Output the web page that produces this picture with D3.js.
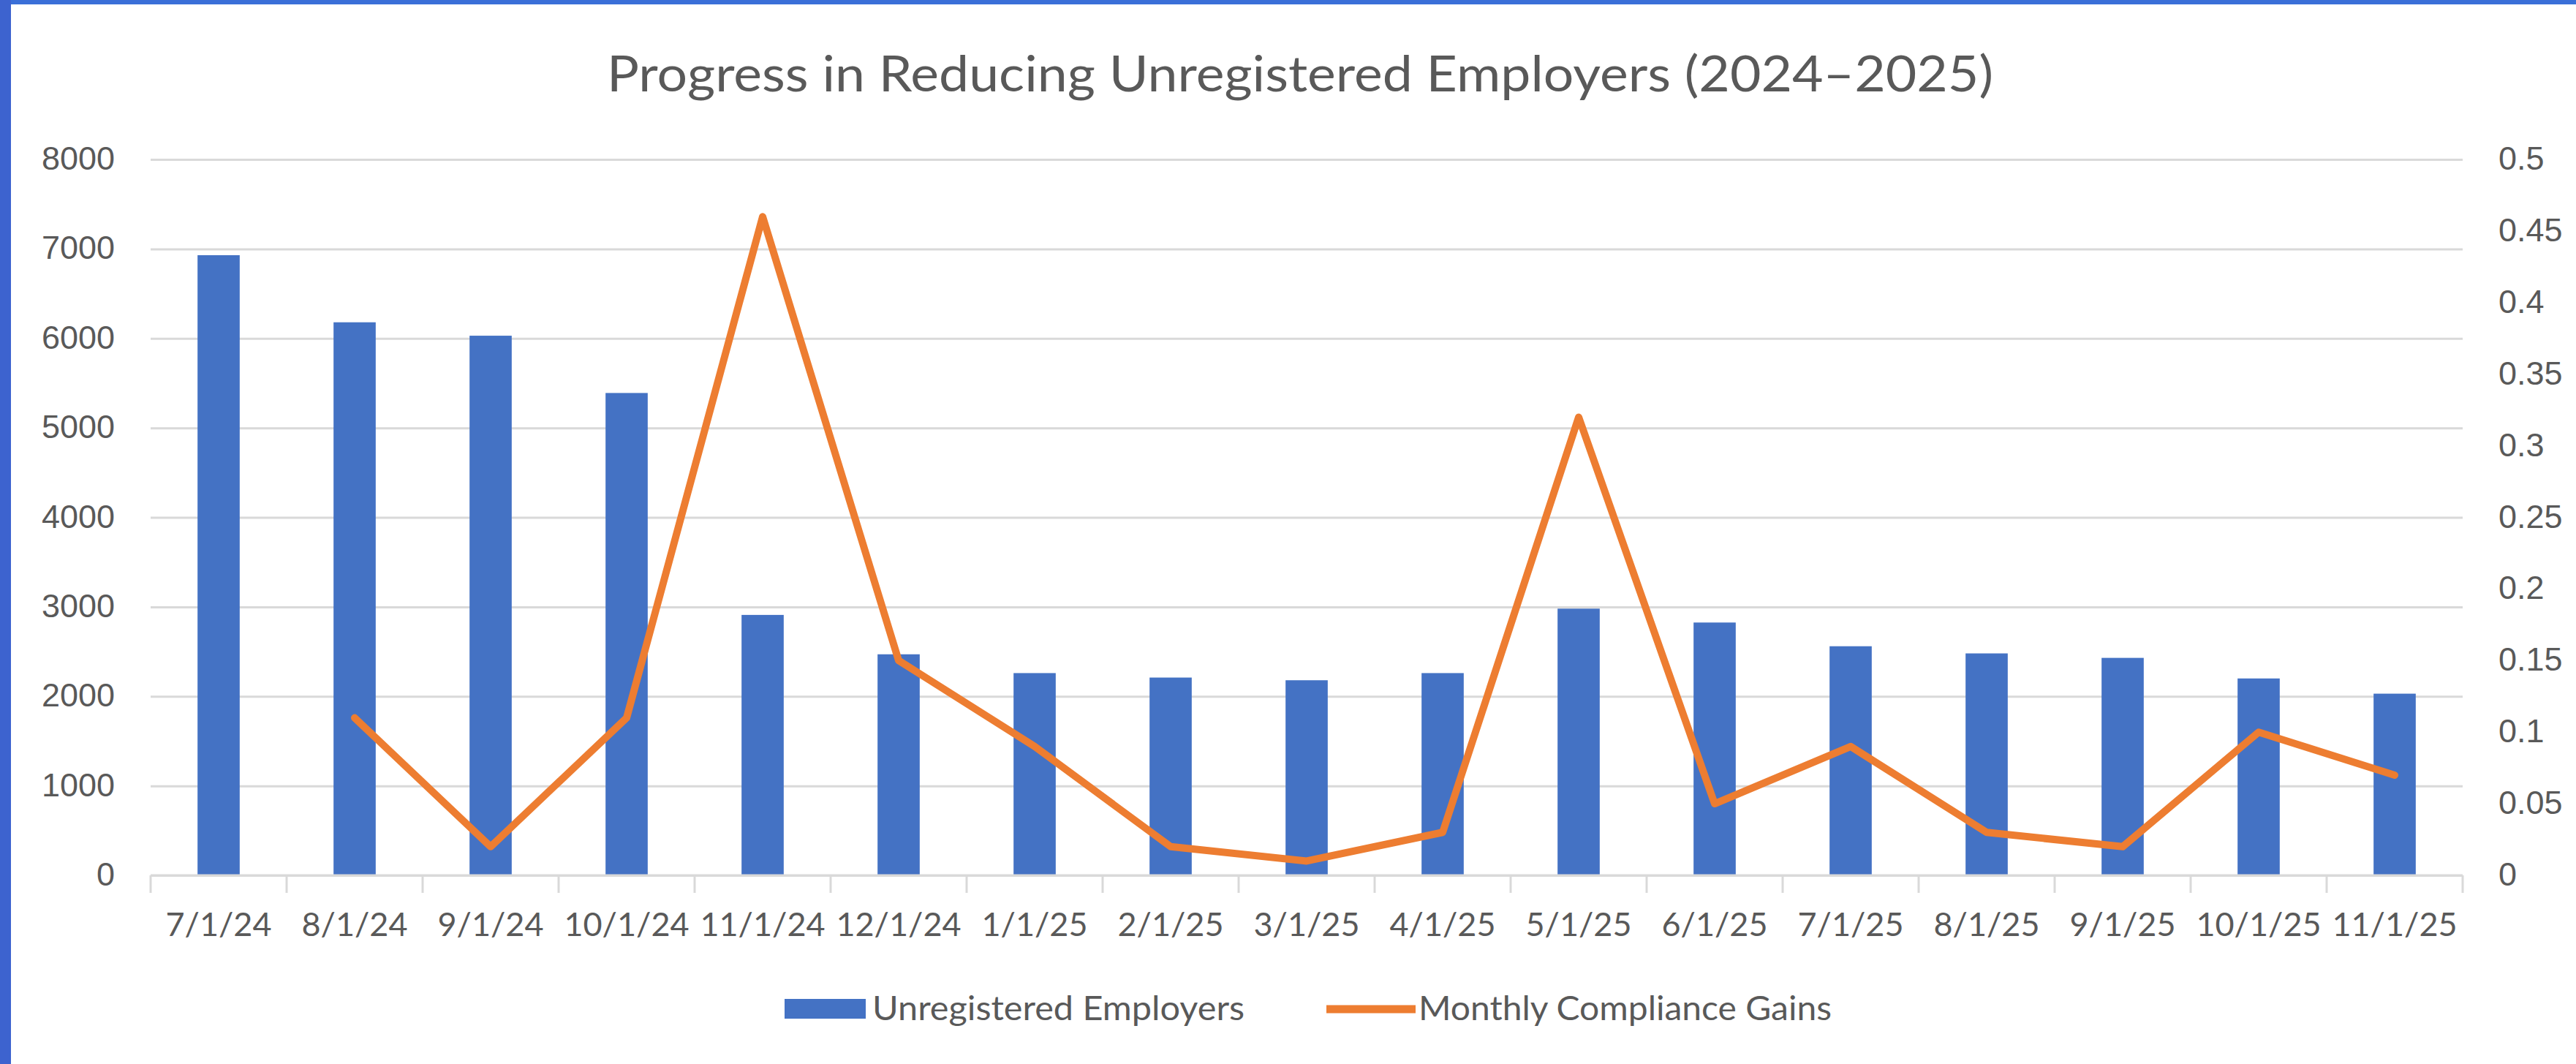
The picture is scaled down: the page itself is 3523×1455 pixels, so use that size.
<!doctype html>
<html lang="en">
  <head>
    <meta charset="UTF-8" />
    <title>Progress in Reducing Unregistered Employers</title>
    <script src="https://d3js.org/d3.v7.min.js"></script>
    <style>
      body {
        margin: 0;
        background: #fff;
      }
      svg {
        display: block;
        font-family: Lato, 'Open Sans', sans-serif;
      }
      .axis text {
        fill: #595959;
        font-size: 45px;
      }
      .axis path,
      .axis line {
        fill: none;
        stroke: #d9d9d9;
        stroke-width: 3;
      }
    </style>
  </head>
  <body>
    <div id="chart"></div>
    <script>
      // Data
      const months = [
        '7/1/24', '8/1/24', '9/1/24', '10/1/24', '11/1/24', '12/1/24',
        '1/1/25', '2/1/25', '3/1/25', '4/1/25', '5/1/25', '6/1/25',
        '7/1/25', '8/1/25', '9/1/25', '10/1/25', '11/1/25',
      ];
      const unregistered = [
        6930, 6180, 6030, 5390, 2910, 2470, 2260, 2210, 2180, 2260,
        2980, 2825, 2560, 2480, 2430, 2200, 2030,
      ];
      const gains = [
        null, 0.11, 0.02, 0.11, 0.46, 0.15, 0.09, 0.02, 0.01, 0.03,
        0.32, 0.05, 0.09, 0.03, 0.02, 0.1, 0.07,
      ];
      const leftTicks = [0, 1000, 2000, 3000, 4000, 5000, 6000, 7000, 8000];
      const rightTicks = [0, 0.05, 0.1, 0.15, 0.2, 0.25, 0.3, 0.35, 0.4, 0.45, 0.5];
      const seriesNames = ['Unregistered Employers', 'Monthly Compliance Gains'];

      const W = 3523;
      const H = 1455;
      const plot = { left: 206, right: 3368, top: 218, bottom: 1197 };
      const blue = '#4472c4';
      const orange = '#ed7d31';

      const svg = d3
        .select('#chart')
        .append('svg')
        .attr('width', W)
        .attr('height', H);

      // frame: blue strips on top and left
      svg.append('rect').attr('width', W).attr('height', H).attr('fill', '#fff');
      svg.append('rect').attr('x', 0).attr('y', 0).attr('width', W).attr('height', 6).attr('fill', '#3a6fd8');
      svg.append('rect').attr('x', 0).attr('y', 0).attr('width', 15).attr('height', H).attr('fill', '#3d63cf');

      // scales
      const x = d3
        .scaleBand()
        .domain(months)
        .range([plot.left, plot.right])
        .paddingInner(0.69)
        .paddingOuter(0.345);
      const xCenter = (d) => x(d) + x.bandwidth() / 2;
      const yLeft = d3.scaleLinear().domain([0, 8000]).range([plot.bottom, plot.top]);
      const yRight = d3.scaleLinear().domain([0, 0.5]).range([plot.bottom, plot.top]);

      // gridlines
      svg
        .append('g')
        .attr('class', 'axis grid')
        .attr('transform', 'translate(' + plot.left + ',0)')
        .call(
          d3
            .axisLeft(yLeft)
            .tickValues(leftTicks)
            .tickSize(-(plot.right - plot.left))
            .tickFormat(''),
        )
        .call((g) => g.select('.domain').remove());

      // left axis labels
      svg
        .append('g')
        .attr('class', 'axis')
        .attr('transform', 'translate(157,0)')
        .call(
          d3
            .axisLeft(yLeft)
            .tickValues(leftTicks)
            .tickSize(0)
            .tickPadding(0)
            .tickFormat(d3.format('d')),
        )
        .call((g) => g.select('.domain').remove())
        .selectAll('text')
        .attr('dy', '0.3em');

      // right axis labels
      svg
        .append('g')
        .attr('class', 'axis')
        .attr('transform', 'translate(3417,0)')
        .call(
          d3
            .axisRight(yRight)
            .tickValues(rightTicks)
            .tickSize(0)
            .tickPadding(0)
            .tickFormat((d) => d3.format('~g')(d)),
        )
        .call((g) => g.select('.domain').remove())
        .selectAll('text')
        .attr('dy', '0.3em');

      // bars
      svg
        .append('g')
        .selectAll('rect')
        .data(months)
        .enter()
        .append('rect')
        .attr('x', (d) => x(d))
        .attr('y', (d, i) => yLeft(unregistered[i]))
        .attr('width', x.bandwidth())
        .attr('height', (d, i) => plot.bottom - yLeft(unregistered[i]))
        .attr('fill', blue);

      // x axis with category separators
      const step = x.step();
      const xAxis = svg
        .append('g')
        .attr('class', 'axis')
        .attr('transform', 'translate(0,' + plot.bottom + ')');
      xAxis
        .append('line')
        .attr('x1', plot.left)
        .attr('x2', plot.right)
        .attr('y1', 0)
        .attr('y2', 0);
      xAxis
        .selectAll('.sep')
        .data(d3.range(months.length + 1))
        .enter()
        .append('line')
        .attr('class', 'sep')
        .attr('x1', (i) => plot.left + i * step)
        .attr('x2', (i) => plot.left + i * step)
        .attr('y1', 0)
        .attr('y2', 24);
      xAxis
        .selectAll('.lbl')
        .data(months)
        .enter()
        .append('text')
        .attr('class', 'lbl')
        .attr('x', (d) => xCenter(d))
        .attr('y', 83)
        .attr('text-anchor', 'middle')
        .text((d) => d);

      // line
      const line = d3
        .line()
        .defined((d) => d.v !== null)
        .x((d) => xCenter(d.m))
        .y((d) => yRight(d.v));
      svg
        .append('path')
        .datum(months.map((m, i) => ({ m: m, v: gains[i] })))
        .attr('d', line)
        .attr('fill', 'none')
        .attr('stroke', orange)
        .attr('stroke-width', 10)
        .attr('stroke-linejoin', 'round')
        .attr('stroke-linecap', 'round');

      // title
      svg
        .append('text')
        .attr('x', 1778)
        .attr('y', 125)
        .attr('text-anchor', 'middle')
        .attr('fill', '#595959')
        .style('font-size', '67px')
        .attr('textLength', 1896)
        .attr('lengthAdjust', 'spacingAndGlyphs')
        .text('Progress in Reducing Unregistered Employers (2024\u20132025)');

      // legend
      const legend = svg.append('g').attr('fill', '#595959').style('font-size', '46px');
      legend
        .append('rect')
        .attr('x', 1073)
        .attr('y', 1366)
        .attr('width', 111)
        .attr('height', 27)
        .attr('fill', blue);
      legend
        .append('text')
        .attr('x', 1193)
        .attr('y', 1395)
        .attr('textLength', 509)
        .attr('lengthAdjust', 'spacingAndGlyphs')
        .text(seriesNames[0]);
      legend
        .append('line')
        .attr('x1', 1814)
        .attr('x2', 1936)
        .attr('y1', 1380)
        .attr('y2', 1380)
        .attr('stroke', orange)
        .attr('stroke-width', 11);
      legend
        .append('text')
        .attr('x', 1940)
        .attr('y', 1395)
        .attr('textLength', 565)
        .attr('lengthAdjust', 'spacingAndGlyphs')
        .text(seriesNames[1]);
    </script>
  </body>
</html>
